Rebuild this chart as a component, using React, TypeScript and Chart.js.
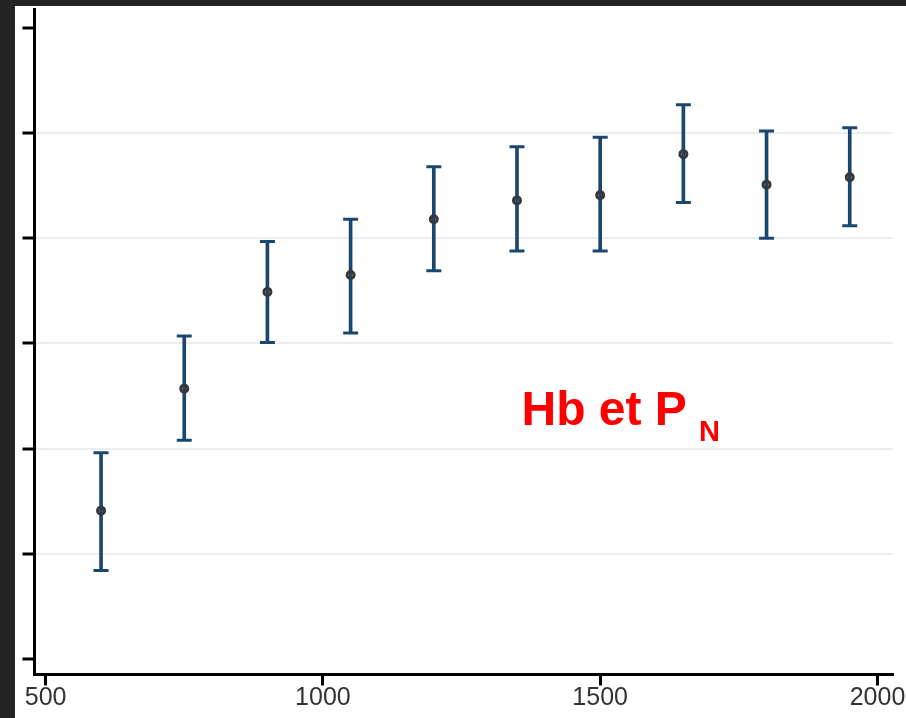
import React, { useEffect, useRef } from 'react';
import { Chart, registerables } from 'chart.js';

Chart.register(...registerables);

// Data
const xValues = [600, 750, 900, 1050, 1200, 1350, 1500, 1650, 1800, 1950];
const meanValues = [1.41, 2.57, 3.49, 3.65, 4.18, 4.36, 4.41, 4.80, 4.51, 4.58];
const upperValues = [1.96, 3.07, 3.97, 4.18, 4.68, 4.87, 4.96, 5.27, 5.02, 5.05];
const lowerValues = [0.84, 2.08, 3.01, 3.10, 3.69, 3.88, 3.88, 4.34, 4.00, 4.12];
const xTicks = [500, 1000, 1500, 2000];
const yTicks = [0, 1, 2, 3, 4, 5, 6];
const annotationMain = 'Hb et P';
const annotationSub = 'N';

const BAR_BLUE = '#1a4670';

export default function App() {
  const canvasRef = useRef<HTMLCanvasElement>(null);

  useEffect(() => {
    document.body.style.margin = '0';
    document.body.style.overflow = 'hidden';
    const canvas = canvasRef.current;
    if (!canvas) return;

    const bgPlugin = {
      id: 'bgFrame',
      beforeDraw(chart: any) {
        const { ctx, width, height } = chart;
        ctx.save();
        ctx.fillStyle = '#232323';
        ctx.fillRect(0, 0, width, height);
        ctx.fillStyle = '#ffffff';
        ctx.fillRect(15, 6, width - 15, height - 6);
        ctx.restore();
      },
    };

    const chart = new Chart(canvas, {
      type: 'scatter',
      data: {
        datasets: [
          {
            type: 'bar',
            data: xValues.map((x, i) => ({ x, y: [lowerValues[i], upperValues[i]] })) as any,
            backgroundColor: BAR_BLUE,
            borderWidth: 0,
            barThickness: 3,
            grouped: false,
            order: 3,
          } as any,
          {
            type: 'scatter',
            data: [
              ...xValues.map((x, i) => ({ x, y: upperValues[i] })),
              ...xValues.map((x, i) => ({ x, y: lowerValues[i] })),
            ],
            pointStyle: 'line',
            pointRadius: 7.5,
            pointBorderWidth: 3,
            pointBorderColor: BAR_BLUE,
            pointBackgroundColor: BAR_BLUE,
            order: 2,
          } as any,
          {
            type: 'scatter',
            data: xValues.map((x, i) => ({ x, y: meanValues[i] })),
            pointStyle: 'circle',
            pointRadius: 3.5,
            pointBorderWidth: 3,
            pointBorderColor: '#383838',
            pointBackgroundColor: 'rgba(0,0,0,0)',
            order: 1,
          } as any,
        ],
      },
      options: {
        responsive: false,
        animation: false,
        devicePixelRatio: 1,
        layout: {
          autoPadding: false,
          padding: { left: 22.5, top: 9, right: 13, bottom: 7.5 },
        },
        plugins: {
          legend: { display: false },
          tooltip: { enabled: false },
        },
        scales: {
          x: {
            type: 'linear',
            min: 480,
            max: 2028,
            offset: false,
            afterBuildTicks: (scale: any) => {
              scale.ticks = xTicks.map((v) => ({ value: v }));
            },
            grid: {
              offset: false,
              drawOnChartArea: false,
              tickLength: 11,
              tickWidth: 3,
              tickColor: '#000000',
              color: '#000000',
            },
            border: { color: '#000000', width: 3 },
            ticks: {
              autoSkip: false,
              maxRotation: 0,
              padding: 0,
              color: '#333333',
              font: { family: "'Liberation Sans', Arial, sans-serif", size: 25, lineHeight: 1 },
              callback: (v: any) => String(v),
            },
          },
          y: {
            type: 'linear',
            min: -0.148,
            max: 6.18,
            afterBuildTicks: (scale: any) => {
              scale.ticks = yTicks.map((v) => ({ value: v }));
            },
            grid: {
              color: (c: any) =>
                c.tick && c.tick.value > 0 && c.tick.value < 6 ? '#e9eef0' : 'rgba(0,0,0,0)',
              lineWidth: 2,
              tickLength: 12,
              tickWidth: 3,
              tickColor: '#000000',
            },
            border: { color: '#000000', width: 3 },
            ticks: { display: false },
          },
        },
      } as any,
      plugins: [bgPlugin],
    });

    return () => chart.destroy();
  }, []);

  return (
    <div style={{ position: 'relative', width: 906, height: 718, overflow: 'hidden' }}>
      <canvas ref={canvasRef} width={906} height={718} style={{ width: 906, height: 718, display: 'block' }} />
      <span
        style={{
          position: 'absolute',
          left: 521.5,
          top: 385.4,
          fontFamily: "'Liberation Sans', Arial, sans-serif",
          fontWeight: 'bold',
          fontSize: 48,
          lineHeight: '48px',
          color: '#ff0000',
          whiteSpace: 'pre',
        }}
      >
        {annotationMain}
      </span>
      <span
        style={{
          position: 'absolute',
          left: 699,
          top: 416.5,
          fontFamily: "'Liberation Sans', Arial, sans-serif",
          fontWeight: 'bold',
          fontSize: 29,
          lineHeight: '29px',
          color: '#ff0000',
        }}
      >
        {annotationSub}
      </span>
    </div>
  );
}
